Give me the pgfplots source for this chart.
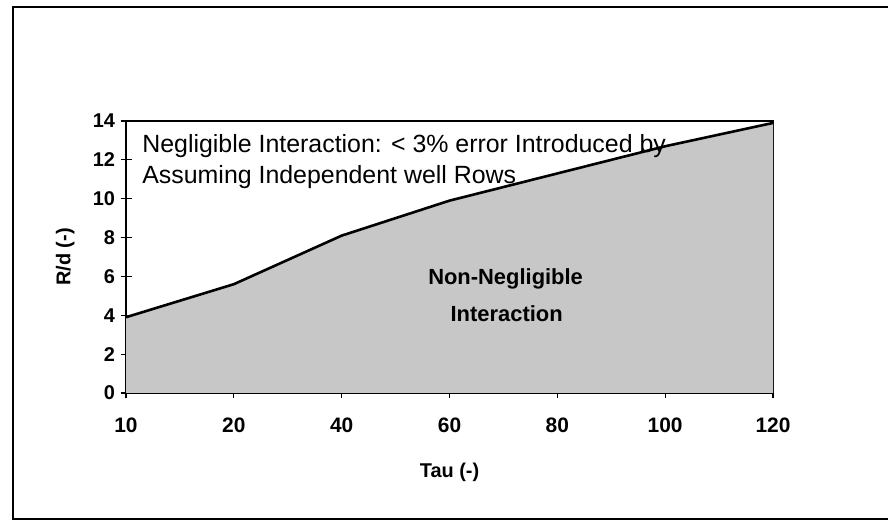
\documentclass[border=0pt]{standalone}
\usepackage{pgfplots}
\pgfplotsset{compat=1.18}
\usepackage{fontspec}
\setmainfont{Liberation Sans}
\begin{document}
\begin{tikzpicture}[x=1bp,y=1bp]
\useasboundingbox (0,0) rectangle (888,527);
\draw[line width=1.2bp] (888,520) -- (13,520) -- (13,8) -- (888,8);
\begin{axis}[
  at={(126bp,134bp)}, anchor=south west,
  scale only axis, width=647bp, height=272bp,
  xmin=0, xmax=6, ymin=0, ymax=14,
  xtick={0,1,2,3,4,5,6},
  xticklabels={10,20,40,60,80,100,120},
  ytick={0,2,4,6,8,10,12,14},
  /pgf/number format/assume math mode=true,
  tick pos=left,
  tick align=center,
  major tick length=11bp,
  axis line style={line width=1.6bp},
  tick style={black, line width=1.2bp},
  yticklabel style={font=\fontsize{20}{24}\selectfont\bfseries, xshift=-2bp},
  xticklabel style={font=\fontsize{21}{25}\selectfont\bfseries, yshift=-16bp},
  xlabel={Tau (-)},
  ylabel={R/d (-)},
  label style={font=\fontsize{20}{24}\selectfont\bfseries},
  xlabel style={at={(axis description cs:0.5,-0.29)}, anchor=center},
  ylabel style={at={(axis description cs:-0.094,0.5)}, anchor=center},
  clip=false,
]
\addplot[fill=black!22, draw=none] coordinates {
  (0,3.9) (1,5.6) (2,8.1) (3,9.9) (4,11.3) (5,12.7) (6,13.9)
} \closedcycle;
\addplot[black, line width=2.6bp] coordinates {
  (0,3.9) (1,5.6) (2,8.1) (3,9.9) (4,11.3) (5,12.7) (6,13.9)
};
\node[anchor=west, font=\fontsize{25}{29}\selectfont, inner sep=0pt] at (axis cs:0.15,12.7) {Negligible Interaction: < 3\% error Introduced by};
\node[anchor=west, font=\fontsize{25}{29}\selectfont, inner sep=0pt] at (axis cs:0.15,11.1) {Assuming Independent well Rows};
\node[anchor=center, font=\fontsize{22}{26}\selectfont\bfseries, inner sep=0pt] at (axis cs:3.52,5.85) {Non-Negligible};
\node[anchor=center, font=\fontsize{22}{26}\selectfont\bfseries, inner sep=0pt] at (axis cs:3.53,4.1) {Interaction};
\end{axis}
\end{tikzpicture}
\end{document}
